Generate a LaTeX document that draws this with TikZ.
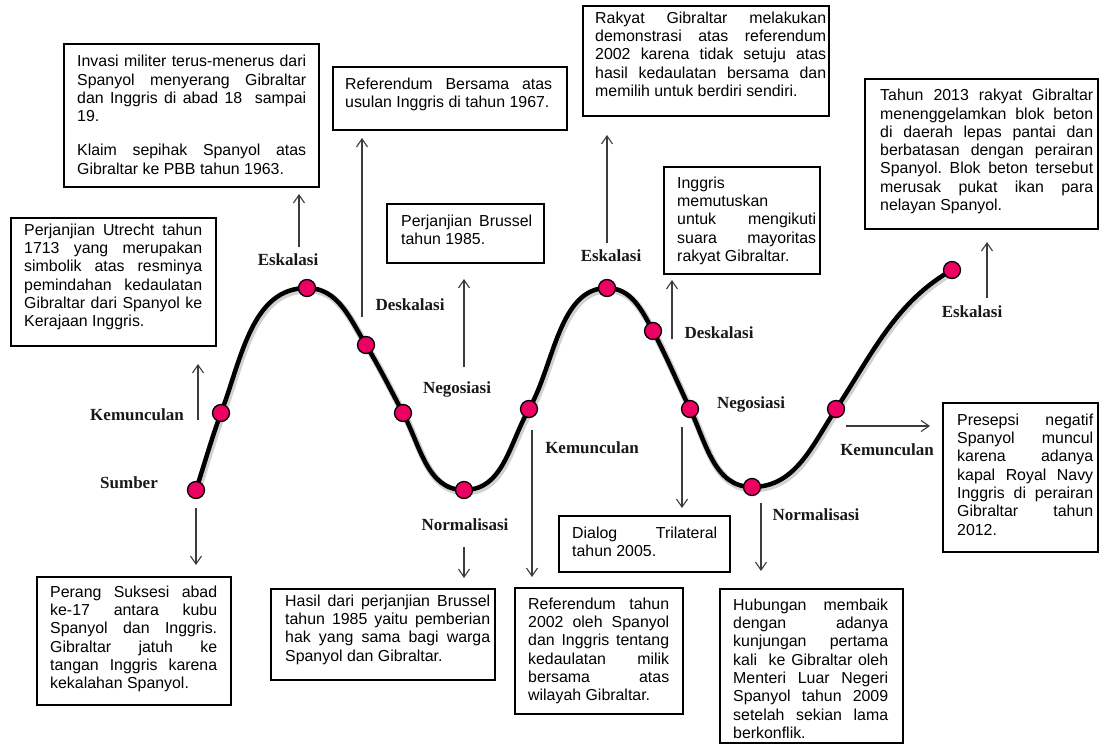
\documentclass[tikz,border=0pt]{standalone}
\usepackage{fontspec}
\setmainfont{Liberation Sans}
\newfontfamily\lblfont{Liberation Serif}
\usetikzlibrary{arrows.meta}
\definecolor{dotpink}{RGB}{238,0,98}
\definecolor{arrgray}{RGB}{60,60,60}
\pretolerance=-1 \tolerance=10000 \hbadness=10000 \hyphenpenalty=10000 \exhyphenpenalty=10000
\frenchspacing
\newcommand\wavepath{(p1) .. controls (204.3,464.3) and (211.6,438.3) .. (p2)
 .. controls (242,357) and (252,288) .. (p3)
 .. controls (338,288) and (349.9,318.5) .. (p4)
 .. controls (379.4,367) and (390.9,390.2) .. (p5)
 .. controls (420.4,445.7) and (427,490) .. (p6)
 .. controls (503.5,490) and (509.3,443.2) .. (p7)
 .. controls (554,365.7) and (559,288) .. (p8)
 .. controls (631,288) and (641.7,309.8) .. (p9)
 .. controls (666.6,356.6) and (677.5,382.8) .. (p10)
 .. controls (706.3,443.1) and (714.2,487) .. (p11)
 .. controls (795.5,487) and (812.1,445.3) .. (p12)
 .. controls (871.8,354.7) and (895.4,301.9) .. (p13)}
\begin{document}
\begin{tikzpicture}[x=1pt,y=-1pt,
  bx/.style={draw=black,line width=2pt,rectangle,inner sep=0pt,anchor=north west},
  txt/.style={inner sep=0pt,anchor=north west,align=justify,font=\fontsize{15.9}{18.3}\selectfont},
  lbl/.style={inner sep=0pt,font=\lblfont\bfseries\fontsize{17}{20}\selectfont,text=black!90},
  dot/.style={circle,fill=dotpink,draw=black,line width=1.3pt,minimum size=17pt,inner sep=0pt},
  arr/.style={draw=arrgray,line width=1.1pt,-{Straight Barb[length=8pt,width=11pt]}},
  wave/.style={line width=4.5pt,line cap=round,line join=round}]
\useasboundingbox[fill=white] (0,0) rectangle (1099,744);

% curve points
\coordinate (p1) at (196,490);
\coordinate (p2) at (221,413);
\coordinate (p3) at (307,288);
\coordinate (p4) at (366,345);
\coordinate (p5) at (403,413);
\coordinate (p6) at (464,490);
\coordinate (p7) at (529,409);
\coordinate (p8) at (607,288);
\coordinate (p9) at (653,331);
\coordinate (p10) at (690,409);
\coordinate (p11) at (752,487);
\coordinate (p12) at (836,409);
\coordinate (p13) at (952,270);

\draw[wave,black!18,line width=7pt,transform canvas={xshift=1.2pt,yshift=-1.8pt}] \wavepath;
\draw[wave,black] \wavepath;

\foreach \i in {1,...,13} {\node[dot] (d\i) at (p\i) {};}

% boxes
\node[bx,minimum width=255pt,minimum height=143pt] (b1) at (63,43) {};
\node[txt,text width=229pt] (t1) at (77,54.7) {\rule{0pt}{12pt}\makebox[229pt][s]{Invasi militer terus-menerus dari}\linebreak Spanyol menyerang Gibraltar\linebreak dan Inggris di abad 18\ \ sampai\linebreak 19.\par\vspace{15.7pt}\rule{0pt}{12pt}Klaim sepihak Spanyol atas\linebreak Gibraltar ke PBB tahun 1963.};

\node[bx,minimum width=205pt,minimum height=128pt] (b2) at (10,217) {};
\node[txt,text width=178pt] (t2) at (24,223) {\rule{0pt}{12pt}Perjanjian Utrecht tahun\linebreak 1713 yang merupakan\linebreak simbolik atas resminya\linebreak pemindahan kedaulatan\linebreak Gibraltar dari Spanyol ke\linebreak Kerajaan Inggris.};

\node[bx,minimum width=194pt,minimum height=128pt] (b3) at (36,576) {};
\node[txt,text width=167pt] (t3) at (50,585) {\rule{0pt}{12pt}Perang Suksesi abad\linebreak ke-17 antara kubu\linebreak Spanyol dan Inggris.\linebreak Gibraltar jatuh ke\linebreak tangan Inggris karena\linebreak kekalahan Spanyol.};

\node[bx,minimum width=224pt,minimum height=91pt] (b4) at (270,588) {};
\node[txt,text width=205pt] (t4) at (285,594) {\rule{0pt}{12pt}Hasil dari perjanjian Brussel\linebreak tahun 1985 yaitu pemberian\linebreak hak yang sama bagi warga\linebreak Spanyol dan Gibraltar.};

\node[bx,minimum width=234pt,minimum height=63pt] (b5) at (332,66) {};
\node[txt,text width=207pt] (t5) at (345,77) {\rule{0pt}{12pt}Referendum Bersama atas\linebreak usulan Inggris di tahun 1967.};

\node[bx,minimum width=157pt,minimum height=59pt] (b6) at (386,203) {};
\node[txt,text width=131pt] (t6) at (401,214) {\rule{0pt}{12pt}Perjanjian Brussel\linebreak tahun 1985.};

\node[bx,minimum width=246pt,minimum height=110pt] (b7) at (582,5) {};
\node[txt,text width=231pt] (t7) at (595,11) {\rule{0pt}{12pt}Rakyat Gibraltar melakukan\linebreak demonstrasi atas referendum\linebreak 2002 karena tidak setuju atas\linebreak hasil kedaulatan bersama dan\linebreak memilih untuk berdiri sendiri.};

\node[bx,minimum width=156pt,minimum height=107pt] (b8) at (663,166) {};
\node[txt,text width=139pt] (t8) at (677,176) {\rule{0pt}{12pt}Inggris\\ memutuskan\\ untuk mengikuti\linebreak suara mayoritas\linebreak rakyat Gibraltar.};

\node[bx,minimum width=233pt,minimum height=150pt] (b9) at (864,78) {};
\node[txt,text width=213pt] (t9) at (880,88.5) {\rule{0pt}{12pt}Tahun 2013 rakyat Gibraltar\linebreak menenggelamkan blok beton\linebreak di daerah lepas pantai dan\linebreak berbatasan dengan perairan\linebreak Spanyol. Blok beton tersebut\linebreak merusak pukat ikan para\linebreak nelayan Spanyol.};

\node[bx,minimum width=171pt,minimum height=56pt] (b10) at (558,515) {};
\node[txt,text width=145pt] (t10) at (572,526) {\rule{0pt}{12pt}Dialog Trilateral\linebreak tahun 2005.};

\node[bx,minimum width=168pt,minimum height=126pt] (b11) at (514,587) {};
\node[txt,text width=141pt] (t11) at (528,597) {\rule{0pt}{12pt}Referendum tahun\linebreak 2002 oleh Spanyol\linebreak dan Inggris tentang\linebreak kedaulatan milik\linebreak bersama atas\linebreak wilayah Gibraltar.};

\node[bx,minimum width=155pt,minimum height=149pt] (b12) at (942,402) {};
\node[txt,text width=136pt] (t12) at (957,413) {\rule{0pt}{12pt}Presepsi negatif\linebreak Spanyol muncul\linebreak karena adanya\linebreak kapal Royal Navy\linebreak Inggris di perairan\linebreak Gibraltar tahun\linebreak 2012.};

\node[bx,minimum width=183pt,minimum height=154pt] (b13) at (719,588) {};
\node[txt,text width=155pt] (t13) at (733,598) {\rule{0pt}{12pt}Hubungan membaik\linebreak dengan adanya\linebreak kunjungan pertama\linebreak kali\ \ ke Gibraltar oleh\linebreak Menteri Luar Negeri\linebreak Spanyol tahun 2009\linebreak setelah sekian lama\linebreak berkonflik.};

% stage labels
\node[lbl] (lk1) at (137,415) {Kemunculan};
\node[lbl] (ls) at (129,483) {Sumber};
\node[lbl] (le1) at (288,260) {Eskalasi};
\node[lbl] (ld1) at (410,305) {Deskalasi};
\node[lbl] (ln1) at (457,389) {Negosiasi};
\node[lbl] (lnm1) at (465,525) {Normalisasi};
\node[lbl] (lk2) at (592,448) {Kemunculan};
\node[lbl] (le2) at (611,256) {Eskalasi};
\node[lbl] (ld2) at (719,333) {Deskalasi};
\node[lbl] (ln2) at (751,404) {Negosiasi};
\node[lbl] (lnm2) at (816,515) {Normalisasi};
\node[lbl] (lk3) at (887,450) {Kemunculan};
\node[lbl] (le3) at (972,312) {Eskalasi};

% arrow start points
\coordinate (s1) at (299,247);
\coordinate (s2) at (198,420);
\coordinate (s3) at (196,508);
\coordinate (s4) at (362,317);
\coordinate (s5) at (464,367);
\coordinate (s6) at (464,547);
\coordinate (s7) at (532,430);
\coordinate (s8) at (607,243);
\coordinate (s9) at (672,339);
\coordinate (s10) at (682,427);
\coordinate (s11) at (761,503);
\coordinate (s12) at (846,426);
\coordinate (s13) at (987,298);

\draw[arr,shorten >=6pt] (s1) -- (s1 |- b1.south);
\draw[arr,shorten >=17pt] (s2) -- (s2 |- b2.south);
\draw[arr,shorten >=11pt] (s3) -- (s3 |- b3.north);
\draw[arr,shorten >=7pt] (s4) -- (s4 |- b5.south);
\draw[arr,shorten >=15pt] (s5) -- (s5 |- b6.south);
\draw[arr,shorten >=10pt] (s6) -- (s6 |- b4.north);
\draw[arr,shorten >=10pt] (s7) -- (s7 |- b11.north);
\draw[arr,shorten >=18pt] (s8) -- (s8 |- b7.south);
\draw[arr,shorten >=5pt] (s9) -- (s9 |- b8.south);
\draw[arr,shorten >=7pt] (s10) -- (s10 |- b10.north);
\draw[arr,shorten >=17pt] (s11) -- (s11 |- b13.north);
\draw[arr,shorten >=12pt] (s12) -- (s12 -| b12.west);
\draw[arr,shorten >=12pt] (s13) -- (s13 |- b9.south);
\end{tikzpicture}
\end{document}
